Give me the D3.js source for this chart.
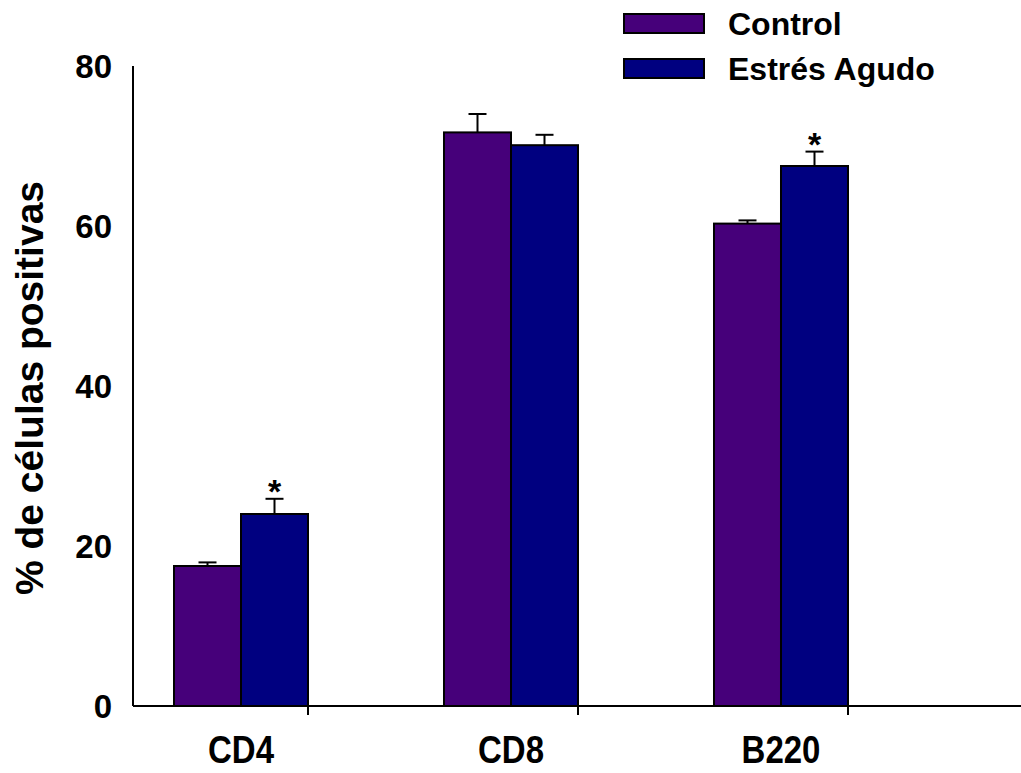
<!DOCTYPE html>
<meta charset="utf-8">
<style>
    body { margin: 0; background: #fff; }
    text { font-family: Arial, "Liberation Sans", sans-serif; font-weight: bold; fill: #000; }
</style>
<svg width="1021" height="773"></svg>
<script src="https://d3js.org/d3.v7.min.js"></script>
<script>

    var categories = ["CD4", "CD8", "B220"],
        seriesNames = ["Control", "Estrés Agudo"],
        control = [17.5, 71.7, 60.3],
        controlErr = [0.45, 2.3, 0.4],
        estres = [24.0, 70.1, 67.5],
        estresErr = [1.9, 1.3, 1.8],
        signif = [true, false, true],   // asterisk over Estrés Agudo
        yTicks = [0, 20, 40, 60, 80];

    var colors = ["#46007a", "#000080"];

    var svg = d3.select("svg"),
        width = +svg.attr("width"),
        height = +svg.attr("height");

    var axisX = 133, axisY = 706;

    var y = d3.scaleLinear().domain([0, 80]).range([706, 66]);

    var x0 = d3.scaleBand()
        .domain(categories)
        .range([174, 848])
        .paddingInner(0.5037)
        .paddingOuter(0);

    var x1 = d3.scaleBand()
        .domain(seriesNames)
        .range([0, x0.bandwidth()]);

    // rows for drawing
    var rows = [];
    categories.forEach(function(c, i) {
        rows.push({cat: c, s: 0, v: control[i], e: controlErr[i], star: false});
        rows.push({cat: c, s: 1, v: estres[i], e: estresErr[i], star: signif[i]});
    });

    var g = svg.append("g");

    // bars
    g.selectAll(".bar")
        .data(rows)
        .enter().append("rect")
        .attr("class", "bar")
        .attr("x", function(d) { return x0(d.cat) + x1(seriesNames[d.s]); })
        .attr("y", function(d) { return y(d.v); })
        .attr("width", x1.bandwidth())
        .attr("height", function(d) { return y(0) - y(d.v); })
        .attr("fill", function(d) { return colors[d.s]; })
        .attr("stroke", "#000")
        .attr("stroke-width", 2);

    // error bars (upper only)
    var eb = g.selectAll(".err")
        .data(rows)
        .enter().append("g")
        .attr("class", "err")
        .attr("stroke", "#000")
        .attr("stroke-width", 2);

    function cx(d) { return x0(d.cat) + x1(seriesNames[d.s]) + x1.bandwidth() / 2; }

    eb.append("line")
        .attr("x1", cx).attr("x2", cx)
        .attr("y1", function(d) { return y(d.v); })
        .attr("y2", function(d) { return y(d.v + d.e); });

    eb.append("line")
        .attr("x1", function(d) { return cx(d) - 9; })
        .attr("x2", function(d) { return cx(d) + 9; })
        .attr("y1", function(d) { return y(d.v + d.e); })
        .attr("y2", function(d) { return y(d.v + d.e); });

    // asterisks
    g.selectAll(".star")
        .data(rows.filter(function(d) { return d.star; }))
        .enter().append("text")
        .attr("class", "star")
        .attr("x", cx)
        .attr("y", function(d) { return y(d.v + d.e) + 4; })
        .attr("text-anchor", "middle")
        .style("font-size", "34px")
        .text("*");

    // axes
    svg.append("line")
        .attr("x1", axisX).attr("x2", axisX)
        .attr("y1", y(80)).attr("y2", axisY)
        .attr("stroke", "#000").attr("stroke-width", 2);

    svg.append("line")
        .attr("x1", axisX).attr("x2", width)
        .attr("y1", axisY).attr("y2", axisY)
        .attr("stroke", "#000").attr("stroke-width", 2);

    // x ticks at right edge of each group
    svg.selectAll(".xtick")
        .data(categories)
        .enter().append("line")
        .attr("x1", function(c) { return x0(c) + x0.bandwidth(); })
        .attr("x2", function(c) { return x0(c) + x0.bandwidth(); })
        .attr("y1", axisY).attr("y2", axisY + 9)
        .attr("stroke", "#000").attr("stroke-width", 2);

    // x labels
    svg.selectAll(".xlab")
        .data(categories)
        .enter().append("text")
        .attr("transform", function(c) {
            return "translate(" + (x0(c) + x0.bandwidth() / 2) + ",763) scale(1,1.15)";
        })
        .attr("text-anchor", "middle")
        .style("font-size", "33px")
        .text(function(c) { return c; });

    // y labels
    svg.selectAll(".ylab")
        .data(yTicks)
        .enter().append("text")
        .attr("x", 112)
        .attr("y", function(t) { return y(t) + 12; })
        .attr("text-anchor", "end")
        .style("font-size", "33px")
        .text(function(t) { return t; });

    // y title
    svg.append("text")
        .attr("transform", "translate(43,388) rotate(-90)")
        .attr("text-anchor", "middle")
        .style("font-size", "39px")
        .text("% de células positivas");

    // legend
    var leg = svg.selectAll(".leg")
        .data(seriesNames)
        .enter().append("g")
        .attr("transform", function(d, i) { return "translate(624," + (14 + i * 45) + ")"; });

    leg.append("rect")
        .attr("width", 80).attr("height", 19)
        .attr("fill", function(d, i) { return colors[i]; })
        .attr("stroke", "#000").attr("stroke-width", 2);

    leg.append("text")
        .attr("x", 104)
        .attr("y", 21)
        .style("font-size", "32px")
        .text(function(d) { return d; });
</script>
